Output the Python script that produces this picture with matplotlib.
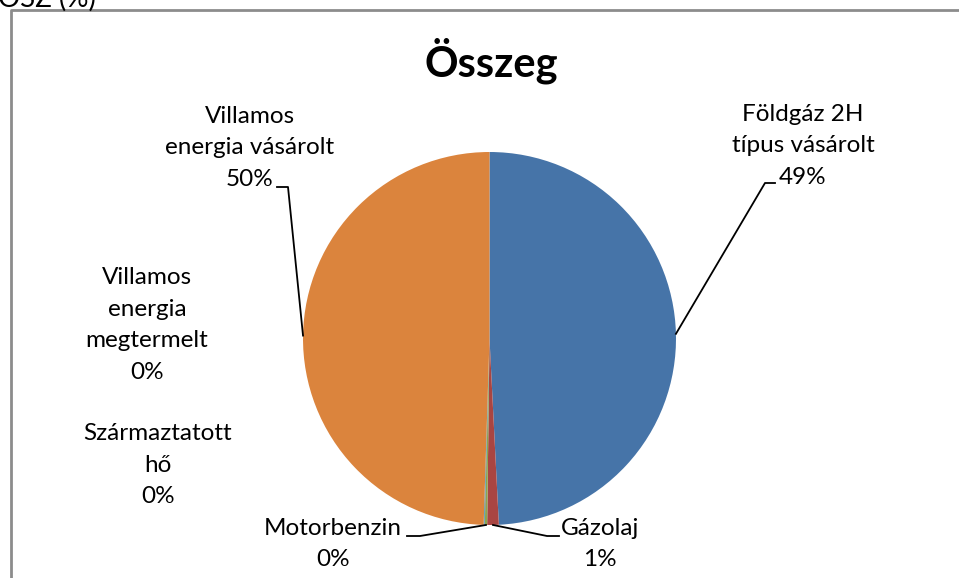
import matplotlib.pyplot as plt
import numpy as np

plt.rcParams['font.family'] = ['Lato', 'DejaVu Sans']

W, H = 959, 578

# data (share of total, %)
categories = ["Földgáz 2H\ntípus vásárolt", "Gázolaj", "Motorbenzin",
              "Származtatott\nhő", "Villamos\nenergia\nmegtermelt",
              "Villamos\nenergia vásárolt"]
values = [49.2, 1.0, 0.2, 0.03, 0.07, 49.5]
colors = ["#4674A8", "#A94542", "#8AA64F", "#715A8F", "#4299B0", "#DB843D"]

# label layout in pixels: text centre, leader elbow points (None = no line)
label_pos = [(803, 146), (600, 544), (333, 544), (158, 465), (147, 325), (250, 148)]
leaders = [[(765, 183), (775, 183)],
           [(547, 536), (559, 536)],
           [(420, 536), (407, 536)],
           None,
           None,
           [(288, 187), (277, 187)]]

def py(y):
    return H - y

fig = plt.figure(figsize=(W / 100, H / 100), dpi=100)
ax = fig.add_axes([0, 0, 1, 1])
ax.set_xlim(0, W)
ax.set_ylim(0, H)
ax.set_aspect('equal')
ax.axis('off')

cx, cy, r = 489.5, py(338.5), 186.5
wedges, _ = ax.pie(values, colors=colors, startangle=90, counterclock=False,
                   center=(cx, cy), radius=r, frame=True,
                   wedgeprops=dict(linewidth=0))
ax.set_xlim(0, W)
ax.set_ylim(0, H)
ax.axis('off')

total = sum(values)
for w, cat, v, (lx, ly), lead in zip(wedges, categories, values, label_pos, leaders):
    pct = "%d%%" % round(v / total * 100)
    ax.text(lx, py(ly), cat + "\n" + pct, ha='center', va='center',
            multialignment='center', fontsize=17.5, linespacing=1.64)
    if lead is not None:
        ang = np.deg2rad((w.theta1 + w.theta2) / 2)
        sx, sy = cx + r * np.cos(ang), cy + r * np.sin(ang)
        xs = [sx] + [p[0] for p in lead]
        ys = [sy] + [py(p[1]) for p in lead]
        ax.plot(xs, ys, color='black', lw=1.3)

ax.text(491, py(61), "Összeg", ha='center', va='center', fontsize=30, fontweight='bold')

# outer chart frame (right and bottom are cut off in the picture)
ax.plot([10.5, 10.5, W + 5], [-5, py(9.5), py(9.5)], color='#8c8c8c', lw=2, clip_on=False)
# cut-off heading above the chart
ax.text(-2, py(7), "OSZ (%)", ha='left', va='baseline', fontsize=20)

fig.savefig("out.png", dpi=100)
